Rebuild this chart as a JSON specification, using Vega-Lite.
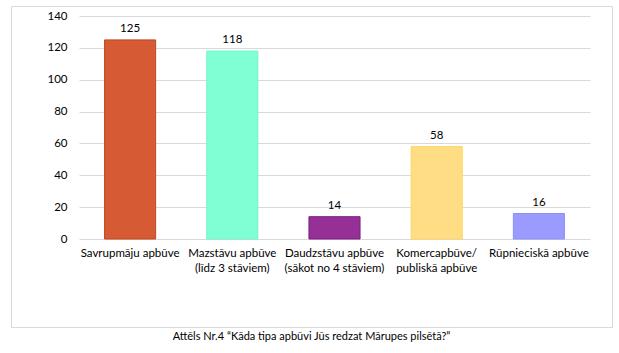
{
  "$schema": "https://vega.github.io/schema/vega-lite/v6.json",
  "width": 601,
  "height": 321,
  "autosize": {"type": "none"},
  "padding": {"left": 11, "top": 6, "right": 7, "bottom": 26},
  "background": "white",
  "config": {"view": {"stroke": "#D9D9D9", "strokeWidth": 1}, "font": "Lato"},
  "title": {
    "text": "Attēls Nr.4 “Kāda tipa apbūvi Jūs redzat Mārupes pilsētā?”",
    "orient": "bottom",
    "anchor": "middle",
    "frame": "group",
    "fontSize": 11,
    "fontWeight": "normal",
    "color": "#000000",
    "offset": 4
  },
  "data": {
    "values": [
      {"type": "Savrupmāju apbūve", "count": 125},
      {"type": "Mazstāvu apbūve\n(līdz 3 stāviem)", "count": 118},
      {"type": "Daudzstāvu apbūve\n(sākot no 4 stāviem)", "count": 14},
      {"type": "Komercapbūve/\npubliskā apbūve", "count": 58},
      {"type": "Rūpnieciskā apbūve", "count": 16}
    ]
  },
  "encoding": {
    "x": {
      "field": "type",
      "type": "nominal",
      "sort": null,
      "scale": {"range": [68, 579], "paddingInner": 0.5, "paddingOuter": 0.25},
      "axis": {
        "title": null,
        "orient": "bottom",
        "offset": -88,
        "domain": false,
        "ticks": false,
        "grid": false,
        "labelPadding": 8,
        "labelAngle": 0,
        "labelFontSize": 11.5,
        "labelColor": "#000000",
        "labelLimit": 200,
        "labelLineHeight": 15,
        "labelExpr": "split(datum.value, '\\n')"
      }
    },
    "y": {
      "field": "count",
      "type": "quantitative",
      "scale": {"domain": [0, 140], "range": [233, 10], "nice": false},
      "axis": {
        "title": null,
        "offset": -58,
        "domain": false,
        "ticks": false,
        "grid": true,
        "gridColor": "#D9D9D9",
        "gridWidth": 1,
        "values": [0, 20, 40, 60, 80, 100, 120, 140],
        "labelPadding": 2,
        "labelFontSize": 11.5,
        "labelColor": "#000000"
      }
    }
  },
  "layer": [
    {
      "mark": {"type": "bar", "strokeWidth": 1},
      "encoding": {
        "fill": {
          "field": "type",
          "type": "nominal",
          "sort": null,
          "legend": null,
          "scale": {"range": ["#D65A33", "#80FFD4", "#962F96", "#FFDD85", "#9A9AFF"]}
        },
        "stroke": {
          "field": "type",
          "type": "nominal",
          "sort": null,
          "legend": null,
          "scale": {"range": ["#C2461F", "#74F5CA", "#7A1F7D", "#FFD65E", "#8E8EF7"]}
        }
      }
    },
    {
      "mark": {"type": "text", "baseline": "bottom", "dy": -6, "fontSize": 11.5, "color": "#000000"},
      "encoding": {"text": {"field": "count", "type": "quantitative"}}
    }
  ]
}
